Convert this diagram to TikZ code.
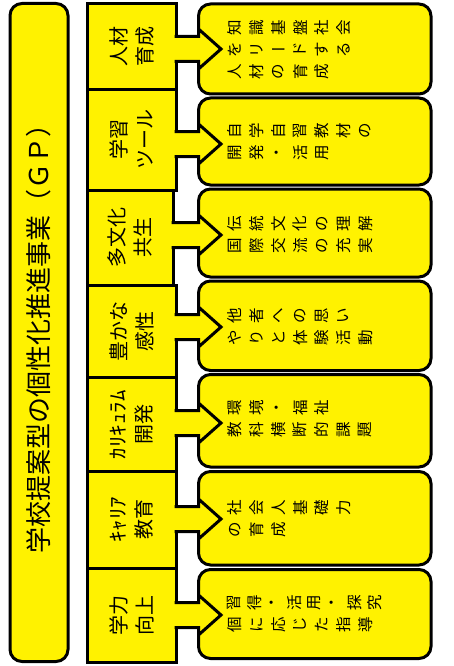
\documentclass[tikz,border=0pt]{standalone}
\usepackage{fontspec}
\usepackage{graphicx}
\setmainfont{Noto Sans CJK JP}
\usetikzlibrary{calc}
\newlength\vp
\def\vrowA#1{\ifx#1\relax\else\vchar{#1}\expandafter\vrowA\fi}
\newcommand\vchar[1]{\makebox[\vp]{\ifx#1ー\raisebox{0.12em}{ー}\else\rotatebox{90}{#1}\fi}}
\newcommand\vrow[2][21.7pt]{\setlength\vp{#1}\vrowA#2\relax}
\begin{document}
\begin{tikzpicture}[x=1pt,y=-1pt,
  bx/.style={draw=black, line width=3pt, fill=yellow, outer sep=0pt, inner sep=0pt},
  catbox/.style={bx, minimum width=88.5pt},
  resbox/.style={bx, rounded corners=12pt, minimum width=232.5pt},
  cattext/.style={rotate=90, align=center, inner sep=0pt, font=\fontsize{20}{26}\selectfont},
  rtext/.style={inner sep=0pt, anchor=west, font=\fontsize{15.5}{15.5}\selectfont},
  shaft/.style={line width=3pt, line join=miter}
]
\useasboundingbox (0,0) rectangle (454,666);
\fill[white] (0,0) rectangle (454,666);

% title
\node[bx, rounded corners=12pt, minimum width=58pt, minimum height=658pt] (title) at (39,332.5) {};
\node[rotate=90, inner sep=0pt, font=\fontsize{26}{30}\selectfont] (titletext) at (title) {学校提案型の個性化推進事業（ＧＰ）};

% category boxes
\node[catbox, minimum height=86pt]    (c1) at (131.75,46.3) {};
\node[catbox, minimum height=100.7pt] (c2) at (131.75,139.65) {};
\node[catbox, minimum height=95pt, minimum width=85.5pt] (c3) at (130.25,237.5) {};
\node[catbox, minimum height=92.3pt]  (c4) at (131.75,331.15) {};
\node[catbox, minimum height=94.4pt]  (c5) at (131.75,424.5) {};
\node[catbox, minimum height=96.3pt]  (c6) at (131.75,519.85) {};
\node[catbox, minimum height=94pt]    (c7) at (131.75,615) {};

\node[cattext] (l1) at (c1) {人材\\育成};
\node[cattext] (l2) at (c2) {学習\\ツール};
\node[cattext] (l3) at (c3) {多文化\\共生};
\node[cattext] (l4) at (c4) {豊かな\\感性};
\node[cattext] (l5) at (c5) {\scalebox{1.15}[1]{ｶﾘｷｭﾗﾑ}\\開発};
\node[cattext] (l6) at (c6) {\scalebox{1.15}[1]{ｷｬﾘｱ}\\教育};
\node[cattext] (l7) at (c7) {学力\\向上};

% result boxes
\node[resbox, minimum height=90pt]   (r1) at (314.75,49) {};
\node[resbox, minimum height=87pt]   (r2) at (314.75,141.5) {};
\node[resbox, minimum height=88pt]   (r3) at (314.75,233) {};
\node[resbox, minimum height=89.5pt] (r4) at (314.75,325.75) {};
\node[resbox, minimum height=92.5pt] (r5) at (314.75,420.75) {};
\node[resbox, minimum height=93.5pt] (r6) at (314.75,518.25) {};
\node[resbox, minimum height=89pt]   (r7) at (314.75,614) {};

% arrows
\foreach \i/\y in {1/49,2/144,3/235,4/327,5/423,6/519,7/615}{
  \coordinate (t\i) at (221,\y);
  \fill[yellow] ($(c\i.east |- t\i)+(-2,-12.5)$) -- ($(r\i.west |- t\i)+(-1.5,-12.5)$)
     -- ($(r\i.west |- t\i)+(-1.5,-21.3)$) -- (t\i) -- ($(r\i.west |- t\i)+(-1.5,21.3)$)
     -- ($(r\i.west |- t\i)+(-1.5,12.5)$) -- ($(c\i.east |- t\i)+(-2,12.5)$) -- cycle;
  \draw[shaft] ($(c\i.east |- t\i)+(-1.5,-12.5)$) -- ($(r\i.west |- t\i)+(0,-12.5)$)
     -- ($(r\i.west |- t\i)+(0,-20)$) -- (t\i) -- ($(r\i.west |- t\i)+(0,20)$)
     -- ($(r\i.west |- t\i)+(0,12.5)$) -- ($(c\i.east |- t\i)+(-1.5,12.5)$);
}

% result texts
\node[rtext] (r1a) at (224,27.5) {\vrow{知識基盤社会}};
\node[rtext] (r1b) at (224,49.5) {\vrow{をリードする}};
\node[rtext] (r1c) at (224,71.5) {\vrow{人材の育成}};
\node[rtext] (r2a) at (224,131) {\vrow{自学自習教材の}};
\node[rtext] (r2b) at (224,153) {\vrow{開発・活用}};
\node[rtext] (r3a) at (224,224) {\vrow{伝統文化の理解}};
\node[rtext] (r3b) at (224,246) {\vrow{国際交流の充実}};
\node[rtext] (r4a) at (224,316) {\vrow{他者への思い}};
\node[rtext] (r4b) at (224,337.5) {\vrow{やりと体験活動}};
\node[rtext] (r5a) at (224,408) {\vrow{環境・福祉}};
\node[rtext] (r5b) at (224,430) {\vrow{教科横断的課題}};
\node[rtext] (r6a) at (224,508) {\vrow{社会人基礎力}};
\node[rtext] (r6b) at (224,530) {\vrow{の育成}};
\node[rtext] (r7a) at (224,603) {\vrow[20pt]{習得・活用・探究}};
\node[rtext] (r7b) at (224,625) {\vrow{個に応じた指導}};
\end{tikzpicture}
\end{document}
